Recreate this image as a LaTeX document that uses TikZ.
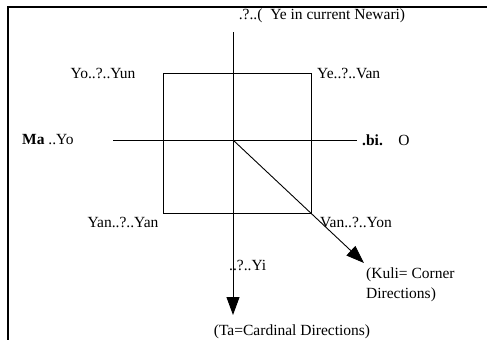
\documentclass[tikz,border=0pt]{standalone}
\usepackage{fontspec}
\setmainfont{Liberation Serif}
\usetikzlibrary{arrows.meta}

\begin{document}
\begin{tikzpicture}[x=1pt,y=-1pt,
			frame/.style={draw=black,line width=1.2pt},
			sq/.style={draw=black,line width=0.9pt},
			axis/.style={draw=black,line width=0.9pt},
			dir/.style={-{Triangle[length=18pt,width=13pt]},draw=black,line width=0.9pt},
			lab/.style={font=\fontsize{15.5}{20}\selectfont,inner sep=0pt}]
			\useasboundingbox (0,0) rectangle (487,340);
			%% page frame, top and left only
			\draw[frame] (487,7) -- (8,7) -- (8,340);
			%% square of the corner directions
			\draw[sq] (163,73) rectangle (311,213);
			%% axis end points
			\coordinate (north) at (233,32);
			\coordinate (south) at (233,315);
			\coordinate (west) at (113,140);
			\coordinate (east) at (357,140);
			\coordinate (centre) at (233,140);
			\coordinate (corner) at (364,263);
			\draw[axis] (west) -- (east);
			\draw[dir] (north) -- (south);
			\draw[dir] (centre) -- (corner);
			%% labels
			\node[lab] (ye) at (322,16) {.?..(\ \ Ye in current Newari)};
			\node[lab] (yun) at (103,73) {Yo..?..Yun};
			\node[lab,anchor=west] (van) at (317,73) {Ye..?..Van};
			\node[lab,anchor=west] (ma) at (22,140) {\textbf{Ma} ..Yo};
			\node[lab,anchor=west] (bi) at (362,140) {\textbf{.bi.}\quad O};
			\node[lab] (yan) at (123,222) {Yan..?..Yan};
			\node[lab,anchor=west] (yon) at (320,222) {Van..?..Yon};
			\node[lab,anchor=west] (yi) at (229,265) {..?..Yi};
			\node[lab,anchor=north west,align=left] (kuli) at (366,268) {(Kuli= Corner\\Directions)};
			\node[lab] (ta) at (292,332) {(Ta=Cardinal Directions)};
		\end{tikzpicture}
\end{document}
